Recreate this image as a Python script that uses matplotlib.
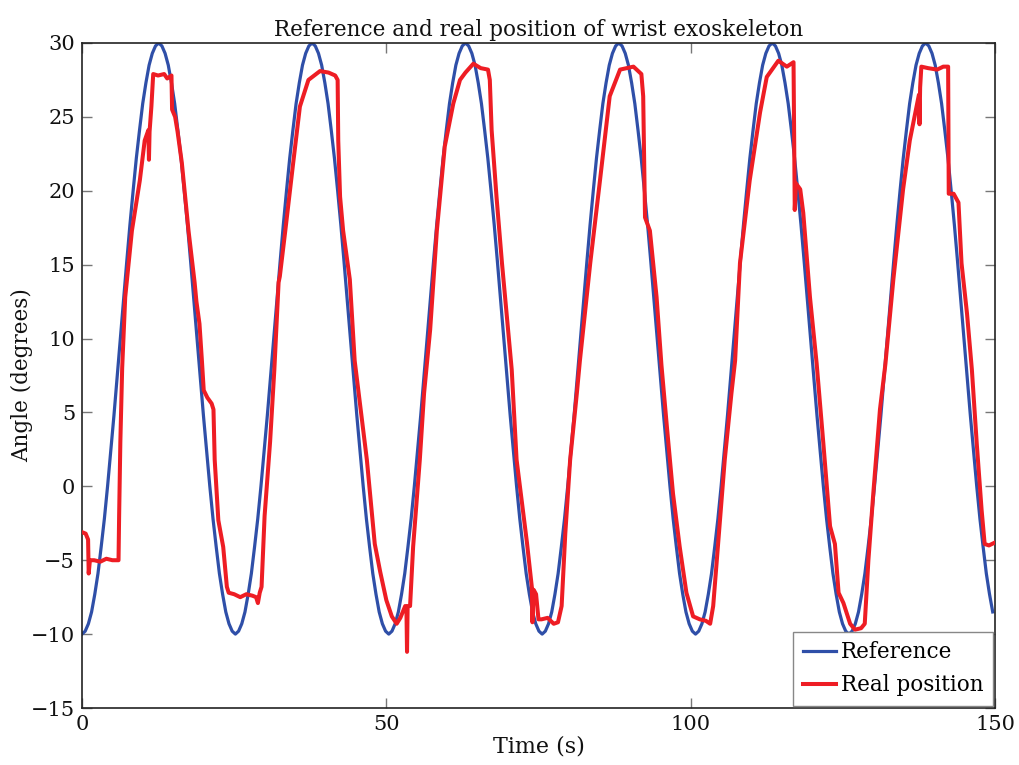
import numpy as np
import matplotlib
matplotlib.use("Agg")
import matplotlib.pyplot as plt

# ---------------- data ----------------
ref_time = np.arange(0, 150, 0.525)
ref_angle = [
    -10.0, -9.8, -9.3, -8.5, -7.3, -5.9, -4.1, -2.2, 0.0, 2.4, 4.8, 7.4, 10.0, 12.6, 15.2, 17.7, 20.0, 22.2, 24.1, 25.9, 27.3, 28.5, 29.3, 29.8,
    30.0, 29.8, 29.3, 28.5, 27.3, 25.9, 24.1, 22.2, 20.0, 17.7, 15.2, 12.6, 10.0, 7.4, 4.8, 2.4, 0.0, -2.2, -4.1, -5.9, -7.3, -8.5, -9.3, -9.8,
    -10.0, -9.8, -9.3, -8.5, -7.3, -5.9, -4.1, -2.2, 0.0, 2.4, 4.8, 7.4, 10.0, 12.6, 15.2, 17.7, 20.0, 22.2, 24.1, 25.9, 27.3, 28.5, 29.3, 29.8,
    30.0, 29.8, 29.3, 28.5, 27.3, 25.9, 24.1, 22.2, 20.0, 17.7, 15.2, 12.6, 10.0, 7.4, 4.8, 2.4, 0.0, -2.2, -4.1, -5.9, -7.3, -8.5, -9.3, -9.8,
    -10.0, -9.8, -9.3, -8.5, -7.3, -5.9, -4.1, -2.2, 0.0, 2.4, 4.8, 7.4, 10.0, 12.6, 15.2, 17.7, 20.0, 22.2, 24.1, 25.9, 27.3, 28.5, 29.3, 29.8,
    30.0, 29.8, 29.3, 28.5, 27.3, 25.9, 24.1, 22.2, 20.0, 17.7, 15.2, 12.6, 10.0, 7.4, 4.8, 2.4, 0.0, -2.2, -4.1, -5.9, -7.3, -8.5, -9.3, -9.8,
    -10.0, -9.8, -9.3, -8.5, -7.3, -5.9, -4.1, -2.2, 0.0, 2.4, 4.8, 7.4, 10.0, 12.6, 15.2, 17.7, 20.0, 22.2, 24.1, 25.9, 27.3, 28.5, 29.3, 29.8,
    30.0, 29.8, 29.3, 28.5, 27.3, 25.9, 24.1, 22.2, 20.0, 17.7, 15.2, 12.6, 10.0, 7.4, 4.8, 2.4, 0.0, -2.2, -4.1, -5.9, -7.3, -8.5, -9.3, -9.8,
    -10.0, -9.8, -9.3, -8.5, -7.3, -5.9, -4.1, -2.2, 0.0, 2.4, 4.8, 7.4, 10.0, 12.6, 15.2, 17.7, 20.0, 22.2, 24.1, 25.9, 27.3, 28.5, 29.3, 29.8,
    30.0, 29.8, 29.3, 28.5, 27.3, 25.9, 24.1, 22.2, 20.0, 17.7, 15.2, 12.6, 10.0, 7.4, 4.8, 2.4, 0.0, -2.2, -4.1, -5.9, -7.3, -8.5, -9.3, -9.8,
    -10.0, -9.8, -9.3, -8.5, -7.3, -5.9, -4.1, -2.2, 0.0, 2.4, 4.8, 7.4, 10.0, 12.6, 15.2, 17.7, 20.0, 22.2, 24.1, 25.9, 27.3, 28.5, 29.3, 29.8,
    30.0, 29.8, 29.3, 28.5, 27.3, 25.9, 24.1, 22.2, 20.0, 17.7, 15.2, 12.6, 10.0, 7.4, 4.8, 2.4, 0.0, -2.2, -4.1, -5.9, -7.3, -8.5,
]

real_time = [
    0.0, 0.6, 1.0, 1.1, 1.3, 2.0, 3.0, 4.0, 5.0, 6.0, 6.1, 6.3, 6.6, 7.1, 8.2, 9.5,
    10.3, 10.9, 11.0, 11.1, 11.4, 11.7, 12.5, 13.5, 14.0, 14.7, 14.8, 15.3, 15.7,
    16.4, 17.5, 18.5, 18.8, 19.3, 19.7, 20.0, 20.6, 21.3, 21.6, 21.8, 22.4, 23.2,
    23.8, 24.1, 25.0, 26.0, 27.0, 28.0, 28.6, 28.9, 29.2, 29.5, 30.0, 30.9, 31.6,
    32.3, 32.5, 33.4, 34.7, 35.8, 37.2, 39.1, 40.5, 41.6, 42.0, 42.1, 42.4, 42.9,
    44.0, 44.8, 46.8, 48.1, 49.0, 50.0, 50.9, 51.7, 52.3, 53.1, 53.3, 53.4, 53.5,
    53.9, 54.4, 55.5, 56.2, 57.2, 58.3, 59.6, 61.0, 62.1, 63.0, 64.3, 65.5, 66.7,
    67.0, 67.3, 68.1, 69.0, 70.0, 70.6, 71.4, 73.1, 73.9, 74.0, 74.2, 74.6, 75.0,
    75.5, 76.5, 77.5, 78.2, 78.8, 79.4, 80.2, 81.3, 81.8, 83.5, 85.1, 86.7, 88.4,
    90.6, 91.9, 92.2, 92.5, 93.3, 94.4, 95.2, 96.1, 97.1, 98.2, 99.3, 100.4,
    101.5, 102.5, 103.2, 103.7, 104.5, 105.6, 106.7, 107.3, 108.1, 109.7, 111.4,
    112.5, 114.4, 115.8, 116.9, 117.1, 117.3, 118.0, 118.5, 119.6, 120.7, 121.8,
    122.9, 123.7, 124.3, 125.1, 126.2, 127.0, 128.0, 128.6, 129.2, 130.0, 131.1,
    132.0, 133.3, 134.9, 136.0, 137.1, 137.5, 137.6, 137.7, 137.9, 139.0, 140.5,
    141.5, 142.3, 142.4, 143.2, 144.0, 144.5, 145.4, 146.2, 147.0, 147.8, 148.3,
    149.0, 150.0,
]
real_angle = [
    -3.1, -3.2, -3.6, -5.9, -5.0, -5.0, -5.1, -4.9, -5.0, -5.0, -2.0, 3.0, 8.0, 12.8, 17.3, 20.7,
    23.4, 24.1, 22.1, 24.0, 25.7, 27.9, 27.8, 27.9, 27.6, 27.8, 25.5, 25.0, 24.0,
    21.9, 17.3, 13.8, 12.5, 11.0, 8.5, 6.5, 6.0, 5.6, 5.2, 1.8, -2.3, -4.1,
    -6.8, -7.2, -7.3, -7.5, -7.3, -7.4, -7.5, -7.9, -7.2, -6.8, -2.0, 3.0, 7.9,
    13.8, 14.2, 17.3, 21.9, 25.7, 27.5, 28.1, 28.0, 27.8, 27.5, 23.4, 19.6, 17.3,
    14.0, 8.5, 1.8, -3.9, -5.8, -7.7, -8.8, -9.3, -8.9, -8.1, -8.2, -11.2, -8.1,
    -8.1, -4.1, 1.8, 6.3, 10.6, 17.3, 23.0, 25.9, 27.5, 28.0, 28.6, 28.3, 28.2,
    27.5, 24.1, 19.6, 15.1, 10.6, 7.9, 1.8, -3.8, -6.8, -9.2, -7.0, -7.3, -9.0,
    -9.0, -8.9, -9.3, -9.2, -8.1, -3.2, 1.8, 6.3, 8.5, 15.1, 20.7, 26.4, 28.2,
    28.4, 27.9, 26.4, 18.2, 17.3, 12.8, 8.2, 4.0, -0.5, -4.1, -7.2, -8.8,
    -9.0, -9.1, -9.3, -8.1, -3.9, 1.8, 6.3, 8.5, 15.1, 20.7, 25.3,
    27.7, 28.8, 28.4, 28.7, 18.7, 20.5, 20.1, 18.5, 12.8, 8.3, 2.9,
    -2.7, -3.9, -7.2, -7.9, -9.3, -9.7, -9.6, -9.3, -5.0, -0.5, 5.2,
    8.3, 14.0, 20.1, 23.4, 25.7, 26.5, 24.5, 27.0, 28.4, 28.3, 28.2,
    28.4, 28.4, 19.8, 19.8, 19.2, 15.1, 11.7, 7.9, 2.9, -1.6, -3.9,
    -4.0, -3.8,
]

x_ticks = [0, 50, 100, 150]
y_ticks = [-15, -10, -5, 0, 5, 10, 15, 20, 25, 30]
y_ticklabels = ['\u221215', '\u221210', '\u22125', '0', '5', '10', '15', '20', '25', '30']

# ---------------- plot ----------------
plt.rcParams['font.family'] = ['DejaVu Serif']
fig = plt.figure(figsize=(10.19, 7.65), dpi=100)
ax = fig.add_axes([82 / 1019, 1 - 708 / 765, (995 - 82) / 1019, (708 - 43) / 765])

ax.plot(ref_time, ref_angle, color='#2f4fa8', lw=2.3, label='Reference', zorder=2)
ax.plot(real_time, real_angle, color='#ee1d24', lw=2.9, label='Real position', zorder=3)

ax.set_xlim(0, 150)
ax.set_ylim(-15, 30)
ax.set_xticks(x_ticks)
ax.set_yticks(y_ticks)
ax.set_yticklabels(y_ticklabels)
ax.tick_params(direction='in', length=7, width=1, color='#777777', labelsize=15,
               top=True, right=True, pad=5, labelcolor='#111111')
for s in ax.spines.values():
    s.set_linewidth(1.2)
    s.set_color('#222222')

ax.set_title('Reference and real position of wrist exoskeleton', fontsize=15.5, pad=5,
             color='#111111')
ax.set_xlabel('Time (s)', fontsize=16, labelpad=1, color='#111111')
ax.set_ylabel('Angle (degrees)', fontsize=15.5, labelpad=-2, color='#111111')

leg = ax.legend(loc='lower right', fontsize=15.5, frameon=True, fancybox=False,
                edgecolor='#888888', framealpha=1, borderaxespad=0.1,
                handlelength=1.55, handletextpad=0.2, borderpad=0.45, labelspacing=0.5)
leg.get_frame().set_linewidth(1.0)

fig.savefig('out.png', dpi=100)
